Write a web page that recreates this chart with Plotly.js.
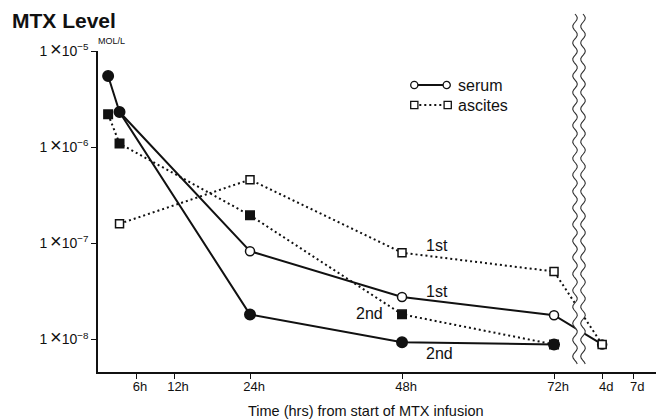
<!DOCTYPE html>
<html>
<head>
<meta charset="utf-8">
<script src="https://cdn.plot.ly/plotly-3.0.1.min.js"></script>
<style>html,body{margin:0;padding:0;background:#fff;}#chart{width:656px;height:420px;}</style>
</head>
<body>
<div id="chart"></div>
<script>
// ---- data (hours from start of MTX infusion; 4d plotted after axis break) ----
var tickHours  = [6, 12, 24, 48, 72, 79.6, 84.5];
var tickLabels = ["6h", "12h", "24h", "48h", "72h", "4d", "7d"];

var serum1Hours = [3.4, 24, 48, 72, 79.6];
var serum1Mol   = [2.32e-6, 8.3e-8, 2.77e-8, 1.79e-8, 8.9e-9];

var serum2Hours = [1.6, 3.4, 24, 48, 72];
var serum2Mol   = [5.5e-6, 2.32e-6, 1.82e-8, 9.4e-9, 8.9e-9];

var ascites1Hours = [3.4, 24, 48, 72, 79.6];
var ascites1Mol   = [1.6e-7, 4.6e-7, 8.0e-8, 5.1e-8, 8.9e-9];

var ascites2Hours = [1.6, 3.4, 24, 48, 72];
var ascites2Mol   = [2.2e-6, 1.09e-6, 1.96e-7, 1.83e-8, 8.9e-9];

var yTickVals = [1e-8, 1e-7, 1e-6, 1e-5];
var yTickExp  = ["8", "7", "6", "5"];

// ---- layout helpers (pixel -> paper) ----
var L = 98, T = 51, W = 558, H = 321;
function px(x) { return (x - L) / W; }
function py(y) { return (T + H - y) / H; }

var FONT = "Liberation Sans, Arial, Helvetica, sans-serif";
var INK = "#111";

var yTickText = yTickExp.map(function (e) {
  return "1\u2009<span style=\"font-size:20px\">\u00d7</span>10<sup>\u2212" + e + "</sup>";
});

function mk(x, y, name, dash, symbol, size, fill) {
  return {
    x: x, y: y, name: name, type: "scatter", mode: "lines+markers",
    line: {color: INK, width: 2, dash: dash},
    marker: {symbol: symbol, size: size, color: fill, line: {color: INK, width: 1.5}},
    showlegend: false, hoverinfo: "x+y"
  };
}

var traces = [
  mk(serum1Hours, serum1Mol, "serum 1st", "solid", "circle", 9, "#fff"),
  mk(ascites1Hours, ascites1Mol, "ascites 1st", "2px,3px", "square", 8, "#fff"),
  mk(serum2Hours, serum2Mol, "serum 2nd", "solid", "circle", 10.5, INK),
  mk(ascites2Hours, ascites2Mol, "ascites 2nd", "2px,3px", "square", 8.5, INK)
];

// ---- axis break (wavy double line) ----
function wave(cx, top, bot, amp, period) {
  var pts = [];
  var n = 180;
  for (var i = 0; i <= n; i++) {
    var yy = top + (bot - top) * i / n;
    var xx = cx + amp * Math.sin(2 * Math.PI * (yy - top) / period);
    pts.push([px(xx), py(yy)]);
  }
  return pts;
}
function toPath(pts, close) {
  var s = pts.map(function (p, i) { return (i ? "L" : "M") + p[0].toFixed(5) + "," + p[1].toFixed(5); }).join(" ");
  return close ? s + " Z" : s;
}
var bTop = 14, bBot = 364, amp = 2.3, per = 16.5;
var leftW = wave(575, bTop, bBot, amp, per);
var rightW = wave(583, bTop, bBot, amp, per);
var bandPts = leftW.concat(rightW.slice().reverse());

var shapes = [
  {type: "path", xref: "paper", yref: "paper", path: toPath(bandPts, true), fillcolor: "#fff", line: {width: 0}, layer: "above"},
  {type: "path", xref: "paper", yref: "paper", path: toPath(leftW, false), line: {color: "#333", width: 1.1}, layer: "above"},
  {type: "path", xref: "paper", yref: "paper", path: toPath(rightW, false), line: {color: "#333", width: 1.1}, layer: "above"},
  // legend keys
  {type: "line", xref: "paper", yref: "paper", x0: px(414.3), x1: px(446.7), y0: py(85), y1: py(85), line: {color: INK, width: 2}},
  {type: "line", xref: "paper", yref: "paper", x0: px(414.3), x1: px(447.7), y0: py(105), y1: py(105), line: {color: INK, width: 2, dash: "2px,3px"}}
];
function keyShape(type, cx, cy) {
  return {type: type, xref: "paper", yref: "paper", xsizemode: "pixel", ysizemode: "pixel",
    xanchor: px(cx), yanchor: py(cy), x0: -3.6, x1: 3.6, y0: -3.6, y1: 3.6,
    fillcolor: "#fff", line: {color: INK, width: 1.3}};
}
shapes.push(keyShape("circle", 414.3, 85), keyShape("circle", 446.7, 85),
            keyShape("rect", 414.3, 105), keyShape("rect", 447.7, 105));

function ann(text, x, y, size, xanchor) {
  return {text: text, xref: "paper", yref: "paper", x: x, y: y, showarrow: false,
    xanchor: xanchor || "center", yanchor: "middle", font: {family: FONT, size: size, color: INK}};
}
var annotations = [
  ann("1st", px(437), py(245), 16),
  ann("1st", px(437), py(291), 16),
  ann("2nd", px(439), py(353), 16),
  ann("2nd", px(369), py(313), 16),
  ann("MOL/L", px(111), py(41), 9),
  ann("serum", px(456), py(85), 16, "left"),
  ann("ascites", px(456), py(105), 16, "left"),
  ann("Time (hrs) from start of MTX infusion", px(366), py(411), 14.5)
];

var layout = {
  width: 656, height: 420,
  margin: {l: L, r: 0, t: T, b: 420 - T - H, pad: 0},
  paper_bgcolor: "#fff", plot_bgcolor: "#fff",
  showlegend: false,
  title: {text: "<b>MTX Level</b>", x: 12 / 656, xanchor: "left", xref: "container",
    y: 1 - 21 / 420, yanchor: "middle", yref: "container",
    font: {family: FONT, size: 21, color: INK}},
  xaxis: {range: [0, 88.1], tickvals: tickHours, ticktext: tickLabels,
    showgrid: false, zeroline: false, showline: true, linecolor: INK, linewidth: 1.5,
    ticks: "outside", ticklen: 5, tickwidth: 1.2, tickcolor: INK,
    ticklabelshift: 4, ticklabelstandoff: -3,
    tickfont: {family: FONT, size: 13, color: INK}, fixedrange: true},
  yaxis: {type: "log", range: [-8.337, -5], tickvals: yTickVals, ticktext: yTickText,
    showgrid: false, zeroline: false, showline: true, linecolor: INK, linewidth: 1.5,
    ticks: "outside", ticklen: 5, tickwidth: 1.2, tickcolor: INK,
    tickfont: {family: FONT, size: 14, color: INK}, fixedrange: true},
  shapes: shapes,
  annotations: annotations
};

Plotly.newPlot("chart", traces, layout, {displayModeBar: false});
</script>
</body>
</html>
